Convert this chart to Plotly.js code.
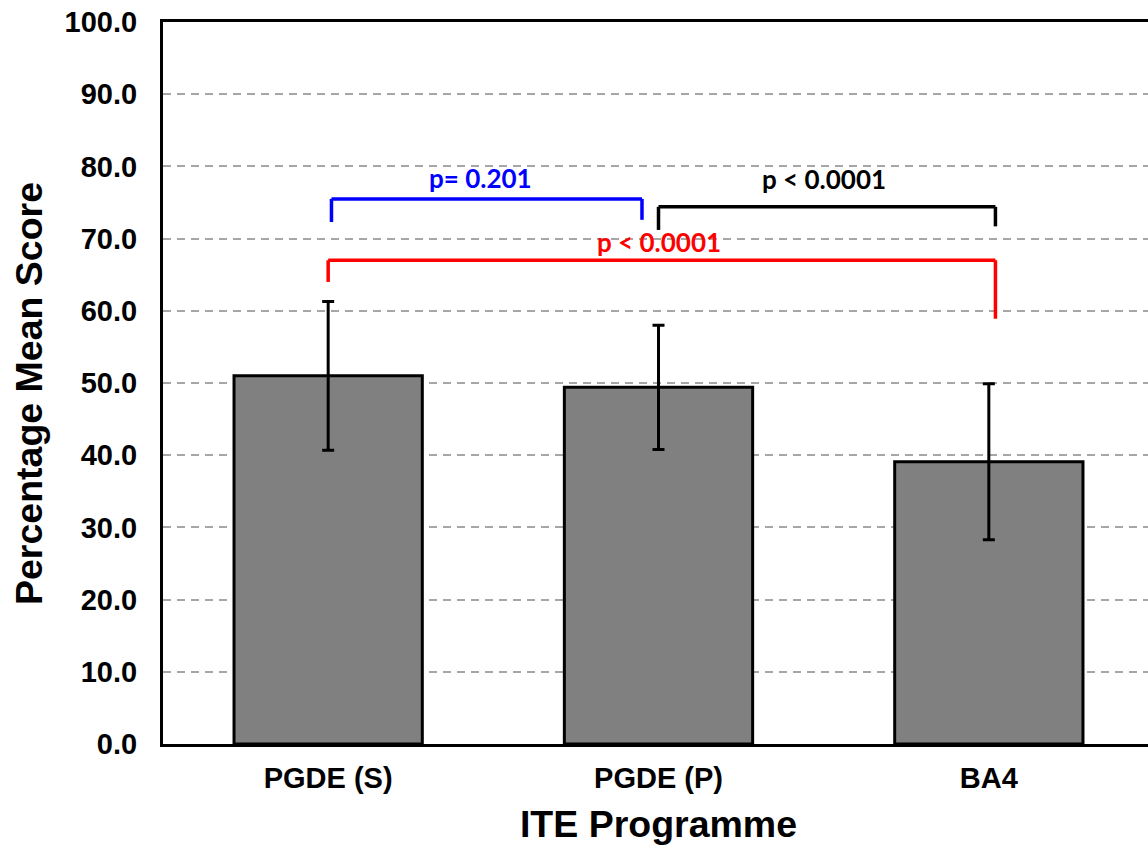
<!DOCTYPE html>
<html>
<head>
<meta charset="utf-8">
<script src="https://cdn.plot.ly/plotly-3.0.1.min.js"></script>
<style>
html,body{margin:0;padding:0;overflow:hidden;background:#fff;}
#chart{width:1154px;height:845px;}
</style>
</head>
<body>
<div id="chart"></div>
<script>
// Data
var categories = ['PGDE (S)', 'PGDE (P)', 'BA4'];
var meanScores = [51.0, 49.4, 39.1];
var sdScores = [10.3, 8.6, 10.8];
var yTickVals = [0, 10, 20, 30, 40, 50, 60, 70, 80, 90, 100];

// Significance brackets
var bracketFrom = [0.01, 1.0, 0.0];
var bracketTo = [0.95, 2.02, 2.02];
var bracketStartY = [72.3, 71.2, 64.0];
var bracketTopY = [75.5, 74.4, 67.0];
var bracketEndY = [72.6, 71.7, 58.9];
var bracketLabels = ['p= 0.201', 'p < 0.0001', 'p < 0.0001'];
var bracketColors = ['#0000ff', '#000000', '#ff0000'];
var labelX = [0.46, 1.5, 1.0];
var labelY = [78.4, 78.3, 69.5];

var shapes = [];
var annotations = [];
for (var i = 0; i < bracketLabels.length; i++) {
  var ln = {color: bracketColors[i], width: 3.5};
  shapes.push({type: 'line', xref: 'x', yref: 'y', x0: bracketFrom[i], x1: bracketFrom[i], y0: bracketStartY[i], y1: bracketTopY[i], line: ln, layer: 'above'});
  shapes.push({type: 'line', xref: 'x', yref: 'y', x0: bracketFrom[i], x1: bracketTo[i], y0: bracketTopY[i], y1: bracketTopY[i], line: ln, layer: 'above'});
  shapes.push({type: 'line', xref: 'x', yref: 'y', x0: bracketTo[i], x1: bracketTo[i], y0: bracketTopY[i], y1: bracketEndY[i], line: ln, layer: 'above'});
  annotations.push({x: labelX[i], y: labelY[i], xref: 'x', yref: 'y', text: '<b>' + bracketLabels[i] + '</b>', showarrow: false,
    font: {family: 'Lato, "Open Sans", sans-serif', size: 26, color: bracketColors[i]}, xanchor: 'center', yanchor: 'middle'});
}
// Y axis title as annotation (positioned like the reference)
annotations.push({xref: 'paper', yref: 'paper', x: -0.135, y: 0.485, xanchor: 'center', yanchor: 'middle',
  text: '<b>Percentage Mean Score</b>', textangle: -90, showarrow: false,
  font: {family: '"Liberation Sans", Arial, sans-serif', size: 37.5, color: '#000000'}});

var trace = {
  type: 'bar',
  x: categories,
  y: meanScores,
  marker: {color: '#808080', line: {color: '#000000', width: 3}},
  error_y: {type: 'data', array: sdScores, visible: true, color: '#000000', thickness: 3, width: 6},
  hoverinfo: 'skip'
};

var layout = {
  width: 1154,
  height: 845,
  margin: {l: 163, r: 0, t: 22, b: 101},
  paper_bgcolor: '#ffffff',
  plot_bgcolor: '#ffffff',
  bargap: 0.43,
  showlegend: false,
  font: {family: '"Liberation Sans", Arial, sans-serif', color: '#000000'},
  xaxis: {
    type: 'category',
    showline: true, linecolor: '#000000', linewidth: 3, mirror: true,
    ticks: '', showgrid: false,
    tickfont: {size: 29, family: '"Liberation Sans", Arial, sans-serif', weight: 'bold'},
    ticklabelstandoff: 6,
    title: {text: '<b>ITE Programme</b>', font: {size: 37.5}, standoff: 18}
  },
  yaxis: {
    range: [0, 100],
    tickvals: yTickVals,
    tickformat: '.1f',
    showline: true, linecolor: '#000000', linewidth: 3, mirror: true,
    ticks: '', zeroline: false,
    showgrid: true, gridcolor: '#a6a6a6', gridwidth: 2, griddash: '8px,6px',
    tickfont: {size: 29, family: '"Liberation Sans", Arial, sans-serif', weight: 'bold'},
    ticklabelstandoff: 17
  },
  shapes: shapes,
  annotations: annotations
};

Plotly.newPlot('chart', [trace], layout, {displayModeBar: false, staticPlot: true});
</script>
</body>
</html>
